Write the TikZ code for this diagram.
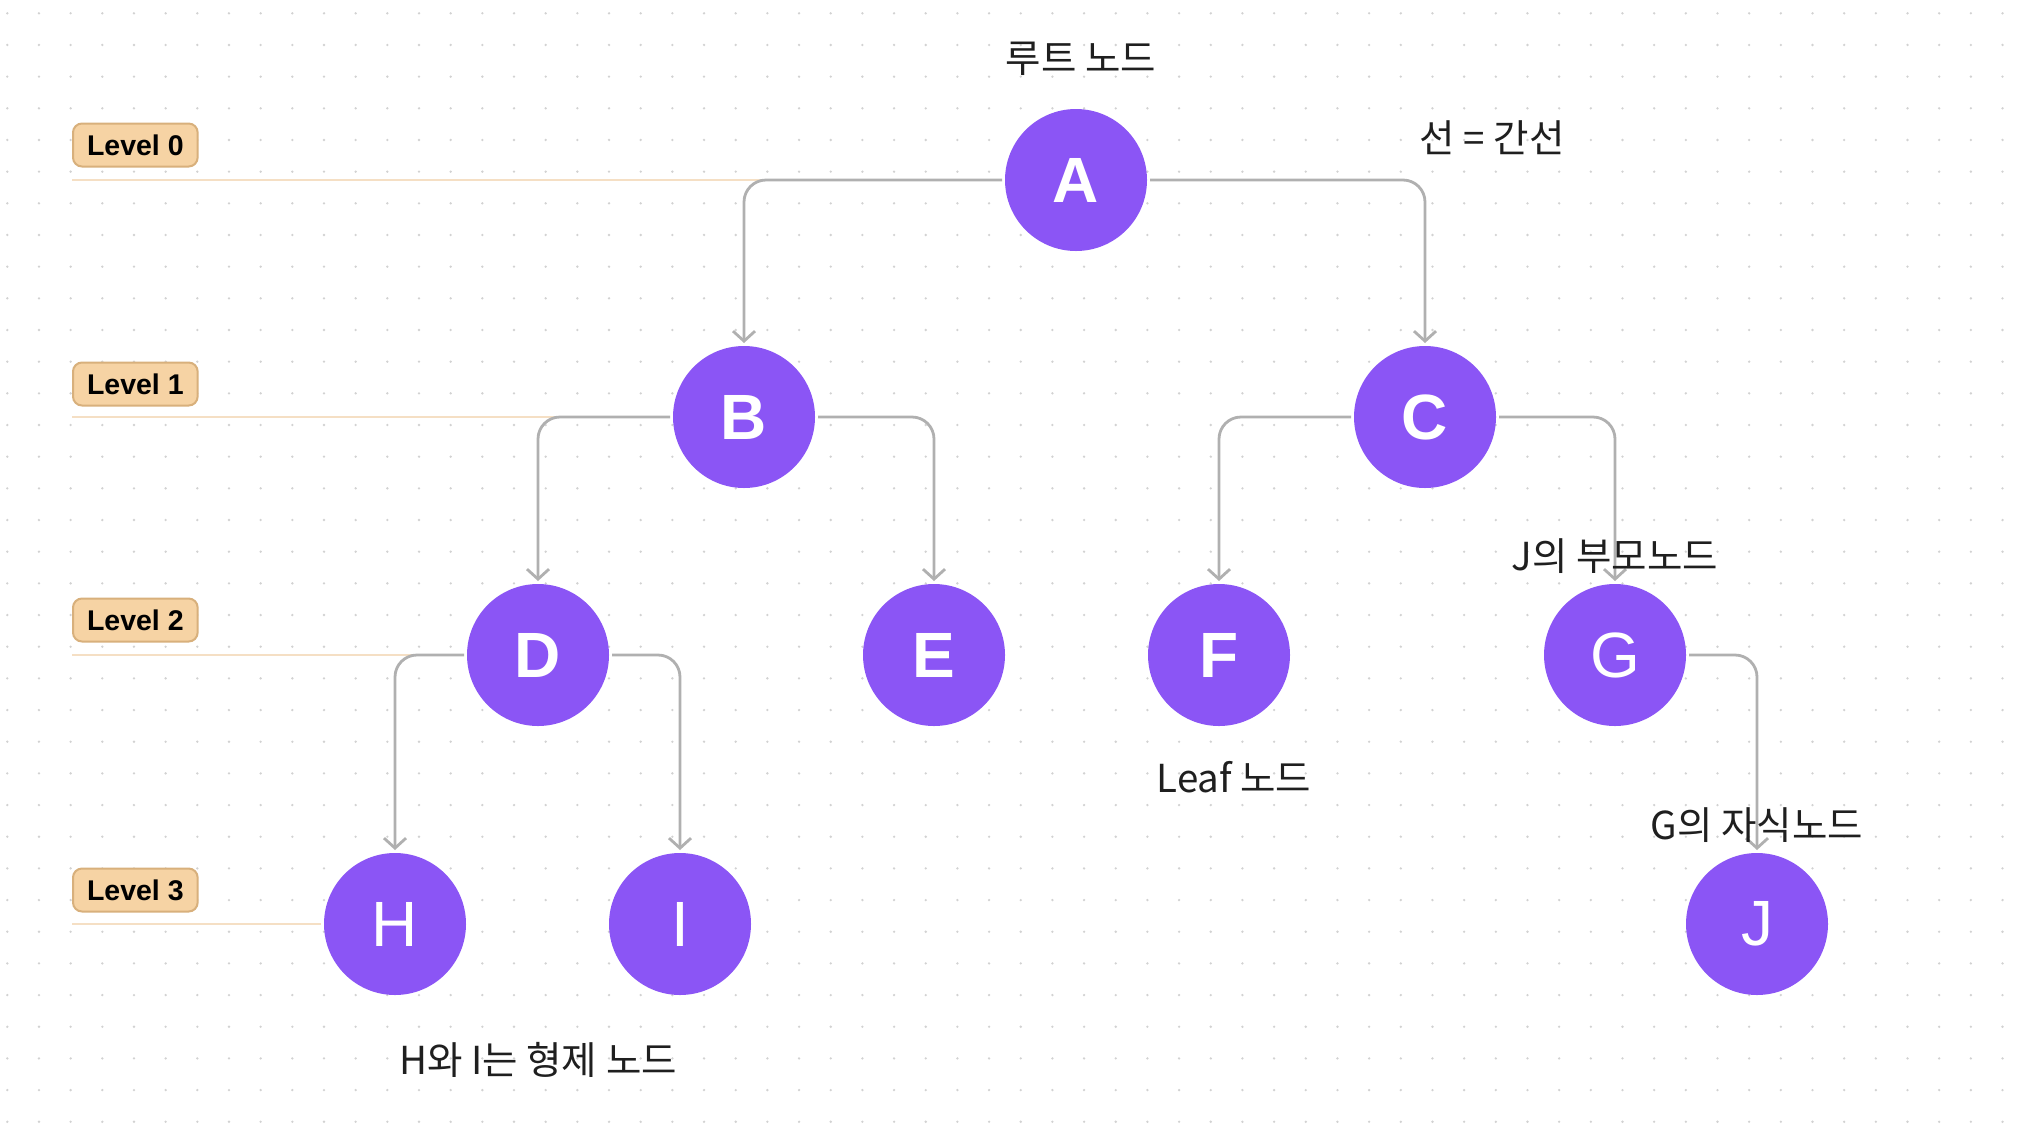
\documentclass[tikz,border=0pt]{standalone}
\usepackage{fontspec}
\setmainfont{Noto Sans CJK KR}
\newfontfamily\lib{Liberation Sans}
\usetikzlibrary{arrows.meta}
\definecolor{nodepurple}{HTML}{8B55F5}
\definecolor{edgegray}{HTML}{B0B0B0}
\definecolor{lvlfill}{HTML}{F6D3A4}
\definecolor{lvldraw}{HTML}{D8B07C}
\definecolor{lvlline}{HTML}{F5DFC4}
\definecolor{dotgray}{HTML}{D2D2D2}
\definecolor{txt}{HTML}{1F1F1F}
\begin{document}
\begin{tikzpicture}[x=1pt,y=-1pt,
  treenode/.style={circle,fill=nodepurple,minimum size=142pt,inner sep=0pt,outer sep=3pt,text=white,font=\lib\bfseries\fontsize{64}{64}\selectfont},
  lightnode/.style={treenode,font=\lib\fontsize{64}{64}\selectfont},
  edge/.style={draw=edgegray,line width=2.8pt,rounded corners=22pt,-{Straight Barb[length=10pt,width=22pt,line width=2.8pt]}},
  lvlbox/.style={draw=lvldraw,fill=lvlfill,line width=2pt,rounded corners=9pt,inner xsep=14pt,inner ysep=0pt,minimum height=43pt,anchor=west,font=\lib\bfseries\fontsize{28.5}{28.5}\selectfont},
  levelrule/.style={draw=lvlline,line width=1.5pt},
  note/.style={text=txt,font=\fontsize{38.5}{38.5}\selectfont,inner sep=0pt}
]
\useasboundingbox (0,0) rectangle (2018,1136);
\fill[white] (0,0) rectangle (2018,1136);
\foreach \i in {0,...,63}{
  \foreach \j in {0,...,35}{
    \fill[dotgray] ({7.3+31.67*\i},{13.3+31.67*\j}) circle (1.3pt);
  }
}
% tree nodes
\node[treenode] (A) at (1076,180) {A};
\node[treenode] (B) at (744,417) {B};
\node[treenode] (C) at (1425,417) {C};
\node[treenode] (D) at (538,655) {D};
\node[treenode] (E) at (934,655) {E};
\node[treenode] (F) at (1219,655) {F};
\node[lightnode] (G) at (1615,655) {G};
\node[lightnode] (H) at (395,924) {H};
\node[lightnode] (I) at (680,924) {I};
\node[lightnode] (J) at (1757,924) {J};
% level rules
\coordinate (L0) at (72,180);
\coordinate (L1) at (72,417);
\coordinate (L2) at (72,655);
\coordinate (L3) at (72,924);
\draw[levelrule] (L0) -- (A.west);
\draw[levelrule] (L1) -- (B.west);
\draw[levelrule] (L2) -- (D.west);
\draw[levelrule] (L3) -- (H.west);
% level labels
\node[lvlbox] (lv0) at (72,145) {Level 0};
\node[lvlbox] (lv1) at (72,384) {Level 1};
\node[lvlbox] (lv2) at (72,620) {Level 2};
\node[lvlbox] (lv3) at (72,890) {Level 3};
% edges
\draw[edge] (A.west) -| (B.north);
\draw[edge] (A.east) -| (C.north);
\draw[edge] (B.west) -| (D.north);
\draw[edge] (B.east) -| (E.north);
\draw[edge] (C.west) -| (F.north);
\draw[edge] (C.east) -| (G.north);
\draw[edge] (D.west) -| (H.north);
\draw[edge] (D.east) -| (I.north);
\draw[edge] (G.east) -| (J.north);
% notes
\node[note] (t1) at (1081,59) {루트 노드};
\node[note] (t2) at (1492,138) {선 = 간선};
\node[note] (t3) at (1615,556) {J의 부모노드};
\node[note] (t4) at (1234,777) {Leaf 노드};
\node[note] (t5) at (1757,825) {G의 자식노드};
\node[note] (t6) at (538,1060) {H와 I는 형제 노드};
\end{tikzpicture}
\end{document}
